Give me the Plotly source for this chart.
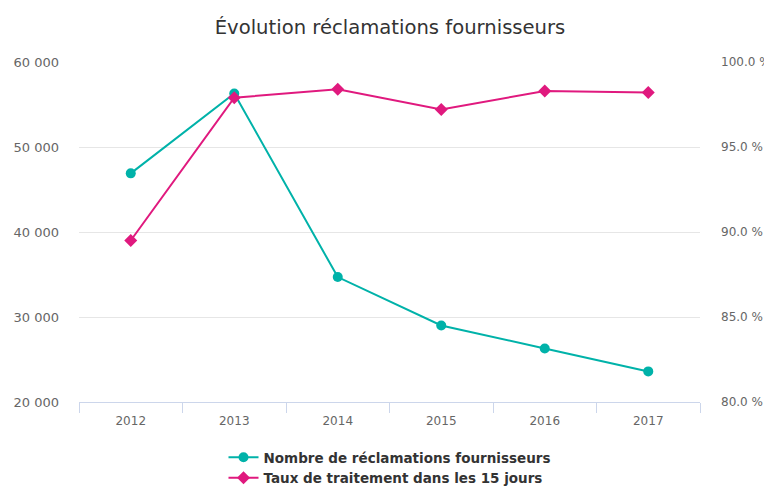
import plotly.graph_objects as go

# Data
years = ["2012", "2013", "2014", "2015", "2016", "2017"]
reclamations = [46900, 56300, 34700, 29000, 26300, 23600]
taux_15j = [89.5, 97.9, 98.4, 97.2, 98.3, 98.2]

TEAL = "#00b2a9"
PINK = "#e0197e"
FONT = "DejaVu Sans"

fig = go.Figure()

fig.add_trace(go.Scatter(
    x=years, y=reclamations, mode="lines+markers",
    name="Nombre de réclamations fournisseurs",
    line=dict(color=TEAL, width=2),
    marker=dict(symbol="circle", size=10, color=TEAL),
))
fig.add_trace(go.Scatter(
    x=years, y=taux_15j, mode="lines+markers", yaxis="y2",
    name="Taux de traitement dans les 15 jours",
    line=dict(color=PINK, width=2),
    marker=dict(symbol="diamond", size=10, color=PINK),
))

# page body has an 8px margin, so the figure is offset by 8px in the window
fig.update_layout(
    width=764, height=486, autosize=False,
    margin=dict(l=71, r=72, t=54, b=92, autoexpand=False),
    paper_bgcolor="white", plot_bgcolor="white",
    separators=". ",
    font=dict(family=FONT, color="#666666", size=12),
    title=dict(
        text="Évolution réclamations fournisseurs",
        x=0.5, xanchor="center", y=0.9607, yanchor="middle",
        font=dict(family=FONT, size=19.6, color="#333333"),
    ),
    showlegend=True,
    legend=dict(
        orientation="v", x=0.5, xanchor="center",
        yref="container", y=0.107, yanchor="top",
        font=dict(family=FONT, size=13.5, color="#333333", weight="bold"),
        tracegroupgap=0, itemwidth=30,
    ),
    xaxis=dict(
        type="category", range=[-0.5, len(years) - 0.5],
        tickson="boundaries", ticks="outside", ticklen=10,
        tickcolor="#ccd6eb", showline=True, linecolor="#ccd6eb", linewidth=1,
        showgrid=False, automargin=False, ticklabelstandoff=8,
        tickfont=dict(size=12, color="#666666"),
    ),
    yaxis=dict(
        range=[20000, 60000], dtick=10000, tickformat=",d",
        showgrid=True, gridcolor="#e6e6e6", zeroline=False, automargin=False,
        ticklabelstandoff=19, tickfont=dict(size=13, color="#666666"),
    ),
    yaxis2=dict(
        range=[80, 100], dtick=5, tickformat=".1f", ticksuffix=" %",
        overlaying="y", side="right", showgrid=False, zeroline=False,
        automargin=False, ticklabelstandoff=20,
        tickfont=dict(size=12, color="#666666"),
    ),
)

fig.write_html("out.html")
